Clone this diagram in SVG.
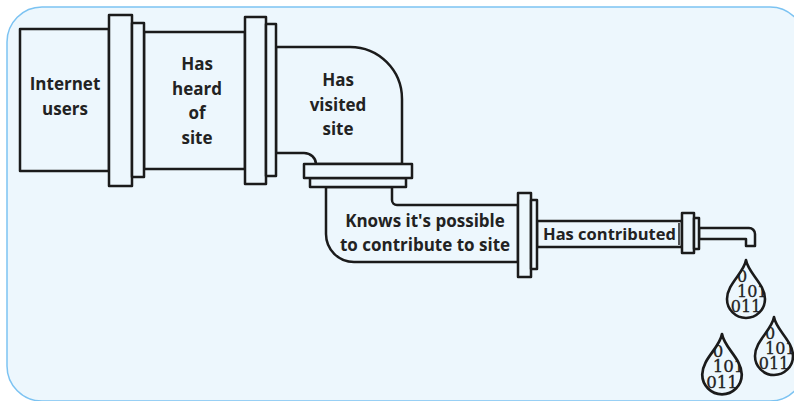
<svg xmlns="http://www.w3.org/2000/svg" xmlns:xlink="http://www.w3.org/1999/xlink" width="794" height="401" viewBox="0 0 794 401">
<style>
.p{fill:#edf7fd;stroke:#1b1b1b;stroke-width:2.5;stroke-linejoin:round}
.t{font-family:"Open Sans","DejaVu Sans",sans-serif;font-weight:bold;font-size:17px;fill:#222;text-anchor:middle}
.d{font-family:"DejaVu Serif",serif;font-size:16px;fill:#222;stroke:#222;stroke-width:0.3}
.dl{fill:none;stroke:#1b1b1b;stroke-width:2.6;stroke-linejoin:round}
</style>
<defs>
<path id="drop" d="M0,0 C2,13 19,24 19,39 A19,19 0 0 1 -19,39 C-19,24 -2,13 0,0 Z"/>
<clipPath id="dropclip"><use xlink:href="#drop"/></clipPath>
<g id="dropfig">
<g clip-path="url(#dropclip)">
<text class="d" x="-9" y="22">0</text>
<text class="d" x="-9" y="37">101</text>
<text class="d" x="0" y="52" text-anchor="middle">011</text>
</g>
<use xlink:href="#drop" class="dl"/>
</g>
</defs>
<rect x="7" y="7" width="798" height="394" rx="35" ry="35" fill="#edf7fd" stroke="#7cc3f2" stroke-width="1.5"/>

<g id="internet-users">
<rect class="p" x="20" y="29" width="89" height="142"/>
<text class="t" x="65" y="90">Internet</text>
<text class="t" x="65" y="115">users</text>
</g>
<g id="has-heard">
<rect class="p" x="144" y="32" width="101" height="137"/>
<text class="t" x="197" y="70">Has</text>
<text class="t" x="197" y="95">heard</text>
<text class="t" x="197" y="119">of</text>
<text class="t" x="197" y="144">site</text>
</g>
<g id="has-visited">
<path class="p" d="M276,47 H350 A52,52 0 0 1 402,99 V164 H316 A12,11 0 0 0 304,153 H276 Z"/>
<text class="t" x="338" y="86">Has</text>
<text class="t" x="338" y="111">visited</text>
<text class="t" x="338" y="135">site</text>
</g>
<g id="knows-possible">
<path class="p" d="M326,187 V234 A28,28 0 0 0 354,262 H518 V205 H397 A5,5 0 0 1 392,200 V187 Z"/>
<text class="t" x="425" y="227">Knows it's possible</text>
<text class="t" x="425" y="251">to contribute to site</text>
</g>
<g id="has-contributed">
<rect class="p" x="537" y="221" width="145" height="26"/>
<line x1="679" y1="223" x2="679" y2="245" stroke="#1b1b1b" stroke-width="1.5"/>
<text class="t" x="609.5" y="240" style="font-size:16.5px">Has contributed</text>
</g>

<g id="connectors">
<rect class="p" x="109" y="15" width="23" height="171"/>
<rect class="p" x="132" y="23" width="12" height="154"/>
<rect class="p" x="245" y="17" width="21" height="167"/>
<rect class="p" x="266" y="24" width="10" height="152"/>
<rect class="p" x="310" y="178" width="96" height="9"/>
<rect class="p" x="304" y="164" width="108" height="14"/>
<rect class="p" x="518" y="193" width="13" height="84"/>
<rect class="p" x="531" y="200" width="6" height="69"/>
<path class="p" d="M699,228 H749 A6,6 0 0 1 755,234 V246 H746 V239 H699 Z"/>
<rect class="p" x="682" y="213" width="12" height="40"/>
<rect class="p" x="694" y="218" width="5" height="31"/>
</g>

<g id="drops">
<use xlink:href="#dropfig" transform="translate(746,260)"/>
<use xlink:href="#dropfig" transform="translate(774,317)"/>
<use xlink:href="#dropfig" transform="translate(722,334) scale(1.04)"/>
</g>
</svg>
